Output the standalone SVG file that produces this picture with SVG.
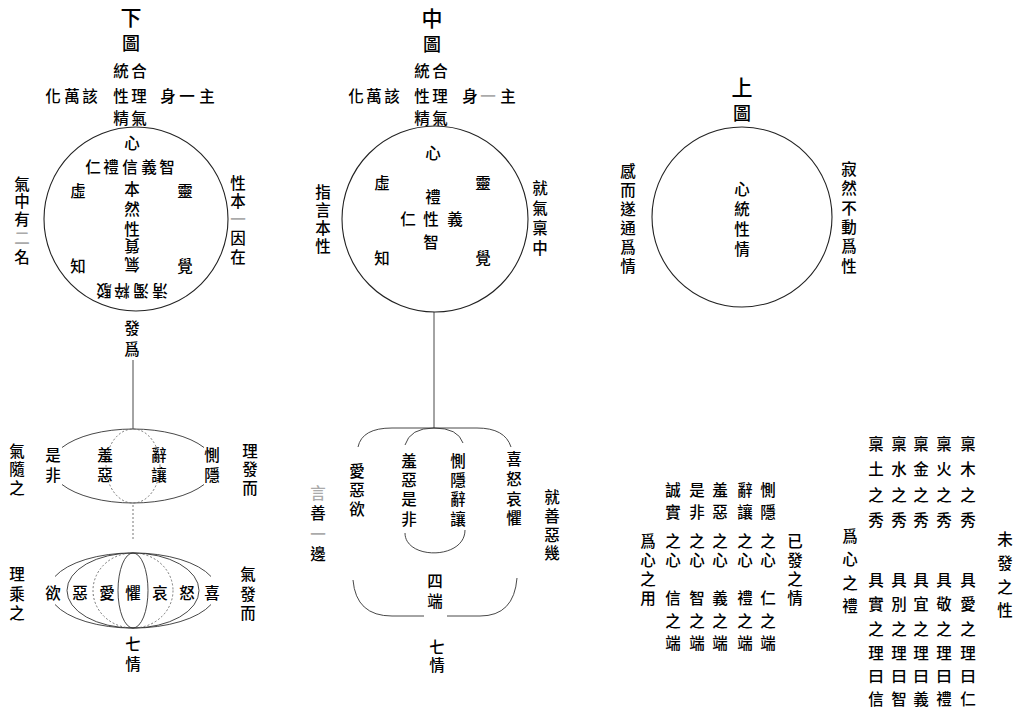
<svg xmlns="http://www.w3.org/2000/svg" width="1020" height="716" viewBox="0 0 1020 716">
<style>
.t{font-family:"Noto Sans CJK TC","Noto Sans CJK SC",sans-serif;font-size:15.5px;font-weight:500;fill:#000;text-anchor:middle;dominant-baseline:central}
.h{font-size:21px}
.g{font-size:18px}
.f{fill:#aaa}
.c{fill:none;stroke:#222;stroke-width:1.1}
.l{fill:none;stroke:#333;stroke-width:0.9}
.d{fill:none;stroke:#666;stroke-width:0.9;stroke-dasharray:2 2}
</style>
<rect width="1020" height="716" fill="#fff"/>
<g id="connectors">
<line class="l" x1="133" y1="360" x2="133" y2="429"/>
<line class="d" x1="133" y1="505" x2="133" y2="540"/>
<line class="l" x1="434" y1="312" x2="434" y2="428"/>
</g>
<g id="lower-diagram-title">
<text class="t h" x="131" y="16">下</text>
<text class="t g" x="131" y="42">圖</text>
<text class="t" x="121" y="70">統</text><text class="t" x="139" y="70">合</text>
<text class="t" x="53" y="95">化</text><text class="t" x="72" y="95">萬</text><text class="t" x="90" y="95">該</text>
<text class="t" x="121" y="95">性</text><text class="t" x="139" y="95">理</text>
<text class="t" x="168" y="95">身</text><text class="t" x="187" y="95">一</text><text class="t" x="207" y="95">主</text>
<text class="t" x="121" y="117">精</text><text class="t" x="139" y="117">氣</text>
</g>
<g id="lower-diagram-circle">
<circle class="c" cx="136" cy="219" r="92"/>
<text class="t" x="132" y="142">心</text>
<text class="t" x="93" y="166">仁</text><text class="t" x="111" y="166">禮</text><text class="t" x="130" y="166">信</text><text class="t" x="149" y="166">義</text><text class="t" x="167" y="166">智</text>
<text class="t" x="78" y="190">虛</text><text class="t" x="185" y="190">靈</text>
<text class="t" x="132" y="188">本</text><text class="t" x="132" y="208">然</text><text class="t" x="132" y="228">性</text>
<text class="t" x="132" y="247" transform="rotate(180 132 247)">質</text>
<text class="t" x="132" y="266" transform="rotate(180 132 266)">氣</text>
<text class="t" x="78" y="265">知</text><text class="t" x="185" y="265">覺</text>
<text class="t" x="160" y="292" transform="rotate(180 160 292)">淸</text>
<text class="t" x="141" y="292" transform="rotate(180 141 292)">濁</text>
<text class="t" x="122" y="292" transform="rotate(180 122 292)">粹</text>
<text class="t" x="104" y="292" transform="rotate(180 104 292)">駁</text>
</g>
<g id="lower-diagram-left-label">
<text class="t" x="22" y="183">氣</text><text class="t" x="22" y="200">中</text><text class="t" x="22" y="218">有</text><text class="t f" x="22" y="237">二</text><text class="t" x="22" y="256">名</text>
</g>
<g id="lower-diagram-right-label">
<text class="t" x="238" y="182">性</text><text class="t" x="238" y="200">本</text><text class="t f" x="238" y="218">一</text><text class="t" x="238" y="237">因</text><text class="t" x="238" y="256">在</text>
</g>
<g id="lower-diagram-fa">
<text class="t" x="132" y="327">發</text><text class="t" x="132" y="348">爲</text>
</g>
<g id="four-sprouts-lens">
<path class="l" d="M62,447.5 A82,37 0 0 1 204,447.5"/>
<path class="l" d="M62,484.5 A82,37 0 0 0 204,484.5"/>
<ellipse class="d" cx="133" cy="466" rx="27" ry="37"/>
<text class="t" x="53" y="454">是</text><text class="t" x="53" y="474">非</text>
<text class="t" x="105" y="454">羞</text><text class="t" x="105" y="474">惡</text>
<text class="t" x="159" y="454">辭</text><text class="t" x="159" y="474">讓</text>
<text class="t" x="212" y="454">惻</text><text class="t" x="212" y="474">隱</text>
<text class="t" x="17" y="450">氣</text><text class="t" x="17" y="468">隨</text><text class="t" x="17" y="487">之</text>
<text class="t" x="250" y="450">理</text><text class="t" x="250" y="468">發</text><text class="t" x="250" y="487">而</text>
</g>
<g id="seven-feelings-lens">
<path class="l" d="M55,576.5 A84,37.5 0 0 1 211,576.5"/>
<path class="l" d="M55,604.5 A84,37.5 0 0 0 211,604.5"/>
<ellipse class="l" cx="133" cy="590.5" rx="66" ry="37.5"/>
<ellipse class="d" cx="133" cy="590.5" rx="40" ry="37.5"/>
<ellipse class="l" cx="133" cy="590.5" rx="15" ry="37.5"/>
<text class="t" x="53" y="592">欲</text><text class="t" x="80" y="592">惡</text><text class="t" x="107" y="592">愛</text><text class="t" x="133" y="592">懼</text><text class="t" x="160" y="592">哀</text><text class="t" x="187" y="592">怒</text><text class="t" x="212" y="592">喜</text>
<text class="t" x="17" y="573">理</text><text class="t" x="17" y="593">乘</text><text class="t" x="17" y="612">之</text>
<text class="t" x="248" y="573">氣</text><text class="t" x="248" y="593">發</text><text class="t" x="248" y="612">而</text>
<text class="t" x="133" y="643">七</text><text class="t" x="133" y="663">情</text>
</g>
<g id="middle-diagram-title">
<text class="t h" x="432" y="17">中</text>
<text class="t g" x="432" y="43">圖</text>
<text class="t" x="422" y="70">統</text><text class="t" x="440" y="70">合</text>
<text class="t" x="356" y="95">化</text><text class="t" x="374" y="95">萬</text><text class="t" x="392" y="95">該</text>
<text class="t" x="422" y="95">性</text><text class="t" x="440" y="95">理</text>
<text class="t" x="470" y="95">身</text><text class="t f" x="488" y="95">一</text><text class="t" x="508" y="95">主</text>
<text class="t" x="422" y="117">精</text><text class="t" x="440" y="117">氣</text>
</g>
<g id="middle-diagram-circle">
<circle class="c" cx="435" cy="219" r="93"/>
<text class="t" x="433" y="152">心</text>
<text class="t" x="382" y="182">虛</text><text class="t" x="483" y="182">靈</text>
<text class="t" x="433" y="196">禮</text>
<text class="t" x="408" y="218">仁</text><text class="t" x="431" y="218">性</text><text class="t" x="455" y="218">義</text>
<text class="t" x="431" y="241">智</text>
<text class="t" x="382" y="257">知</text><text class="t" x="483" y="257">覺</text>
</g>
<g id="middle-diagram-left-label">
<text class="t" x="323" y="191">指</text><text class="t" x="323" y="209">言</text><text class="t" x="323" y="227">本</text><text class="t" x="323" y="245">性</text>
</g>
<g id="middle-diagram-right-label">
<text class="t" x="540" y="187">就</text><text class="t" x="540" y="207">氣</text><text class="t" x="540" y="227">稟</text><text class="t" x="540" y="247">中</text>
</g>
<g id="middle-sprouts-feelings">
<path class="l" d="M358,447 Q362,428 392,428 L477,428 Q505,428 511,447"/>
<path class="l" d="M353,580 Q356,616 392,616 L424,616 M447,616 L480,616 Q514,616 517,578"/>
<path class="l" d="M405,445 Q410,428 434,428 Q458,428 463,443"/>
<path class="l" d="M405,533 C405,560 465,560 465,530"/>
<text class="t" x="357" y="470">愛</text><text class="t" x="357" y="489">惡</text><text class="t" x="357" y="508">欲</text>
<text class="t" x="409" y="460">羞</text><text class="t" x="409" y="479">惡</text><text class="t" x="409" y="498">是</text><text class="t" x="409" y="518">非</text>
<text class="t" x="458" y="460">惻</text><text class="t" x="458" y="479">隱</text><text class="t" x="458" y="498">辭</text><text class="t" x="458" y="518">讓</text>
<text class="t" x="514" y="458">喜</text><text class="t" x="514" y="478">怒</text><text class="t" x="514" y="498">哀</text><text class="t" x="514" y="517">懼</text>
<text class="t" x="435" y="580">四</text><text class="t" x="435" y="600">端</text>
<text class="t" x="437" y="646">七</text><text class="t" x="437" y="664">情</text>
</g>
<g id="middle-bottom-left-label">
<text class="t f" x="318" y="492">言</text><text class="t" x="318" y="512">善</text><text class="t f" x="318" y="533">一</text><text class="t" x="318" y="553">邊</text>
</g>
<g id="middle-bottom-right-label">
<text class="t" x="552" y="496">就</text><text class="t" x="552" y="515">善</text><text class="t" x="552" y="534">惡</text><text class="t" x="552" y="552">幾</text>
</g>
<g id="upper-diagram">
<text class="t h" x="742" y="86">上</text>
<text class="t g" x="742" y="112">圖</text>
<circle class="c" cx="742" cy="217" r="90"/>
<text class="t" x="742" y="188">心</text><text class="t" x="742" y="208">統</text><text class="t" x="742" y="228">性</text><text class="t" x="742" y="248">情</text>
</g>
<g id="upper-diagram-left-label">
<text class="t" x="628" y="170">感</text><text class="t" x="628" y="189">而</text><text class="t" x="628" y="208">遂</text><text class="t" x="628" y="227">通</text><text class="t" x="628" y="246">爲</text><text class="t" x="628" y="265">情</text>
</g>
<g id="upper-diagram-right-label">
<text class="t" x="849" y="168">寂</text><text class="t" x="849" y="187">然</text><text class="t" x="849" y="207">不</text><text class="t" x="849" y="226">動</text><text class="t" x="849" y="245">爲</text><text class="t" x="849" y="265">性</text>
</g>
<g id="feelings-block">
<text class="t" x="648" y="540">爲</text><text class="t" x="648" y="559">心</text><text class="t" x="648" y="578">之</text><text class="t" x="648" y="597">用</text>
<text class="t" x="673" y="489">誠</text><text class="t" x="673" y="511">實</text><text class="t" x="673" y="540">之</text><text class="t" x="673" y="559">心</text><text class="t" x="673" y="597">信</text><text class="t" x="673" y="620">之</text><text class="t" x="673" y="642">端</text>
<text class="t" x="697" y="489">是</text><text class="t" x="697" y="511">非</text><text class="t" x="697" y="540">之</text><text class="t" x="697" y="559">心</text><text class="t" x="697" y="597">智</text><text class="t" x="697" y="620">之</text><text class="t" x="697" y="642">端</text>
<text class="t" x="720" y="489">羞</text><text class="t" x="720" y="511">惡</text><text class="t" x="720" y="540">之</text><text class="t" x="720" y="559">心</text><text class="t" x="720" y="597">義</text><text class="t" x="720" y="620">之</text><text class="t" x="720" y="642">端</text>
<text class="t" x="745" y="489">辭</text><text class="t" x="745" y="511">讓</text><text class="t" x="745" y="540">之</text><text class="t" x="745" y="559">心</text><text class="t" x="745" y="597">禮</text><text class="t" x="745" y="620">之</text><text class="t" x="745" y="642">端</text>
<text class="t" x="768" y="489">惻</text><text class="t" x="768" y="511">隱</text><text class="t" x="768" y="540">之</text><text class="t" x="768" y="559">心</text><text class="t" x="768" y="597">仁</text><text class="t" x="768" y="620">之</text><text class="t" x="768" y="642">端</text>
<text class="t" x="795" y="540">已</text><text class="t" x="795" y="559">發</text><text class="t" x="795" y="578">之</text><text class="t" x="795" y="597">情</text>
</g>
<g id="nature-block">
<text class="t" x="850" y="535">爲</text><text class="t" x="850" y="558">心</text><text class="t" x="850" y="582">之</text><text class="t" x="850" y="605">禮</text>
<text class="t" x="876" y="443">稟</text><text class="t" x="876" y="468">土</text><text class="t" x="876" y="494">之</text><text class="t" x="876" y="519">秀</text><text class="t" x="876" y="579">具</text><text class="t" x="876" y="603">實</text><text class="t" x="876" y="628">之</text><text class="t" x="876" y="652">理</text><text class="t" x="876" y="675">曰</text><text class="t" x="876" y="698">信</text>
<text class="t" x="899" y="443">稟</text><text class="t" x="899" y="468">水</text><text class="t" x="899" y="494">之</text><text class="t" x="899" y="519">秀</text><text class="t" x="899" y="579">具</text><text class="t" x="899" y="603">別</text><text class="t" x="899" y="628">之</text><text class="t" x="899" y="652">理</text><text class="t" x="899" y="675">曰</text><text class="t" x="899" y="698">智</text>
<text class="t" x="921" y="443">稟</text><text class="t" x="921" y="468">金</text><text class="t" x="921" y="494">之</text><text class="t" x="921" y="519">秀</text><text class="t" x="921" y="579">具</text><text class="t" x="921" y="603">宜</text><text class="t" x="921" y="628">之</text><text class="t" x="921" y="652">理</text><text class="t" x="921" y="675">曰</text><text class="t" x="921" y="698">義</text>
<text class="t" x="944" y="443">稟</text><text class="t" x="944" y="468">火</text><text class="t" x="944" y="494">之</text><text class="t" x="944" y="519">秀</text><text class="t" x="944" y="579">具</text><text class="t" x="944" y="603">敬</text><text class="t" x="944" y="628">之</text><text class="t" x="944" y="652">理</text><text class="t" x="944" y="675">曰</text><text class="t" x="944" y="698">禮</text>
<text class="t" x="968" y="443">稟</text><text class="t" x="968" y="468">木</text><text class="t" x="968" y="494">之</text><text class="t" x="968" y="519">秀</text><text class="t" x="968" y="579">具</text><text class="t" x="968" y="603">愛</text><text class="t" x="968" y="628">之</text><text class="t" x="968" y="652">理</text><text class="t" x="968" y="675">曰</text><text class="t" x="968" y="698">仁</text>
<text class="t" x="1005" y="538">未</text><text class="t" x="1005" y="562">發</text><text class="t" x="1005" y="586">之</text><text class="t" x="1005" y="609">性</text>
</g>
</svg>
